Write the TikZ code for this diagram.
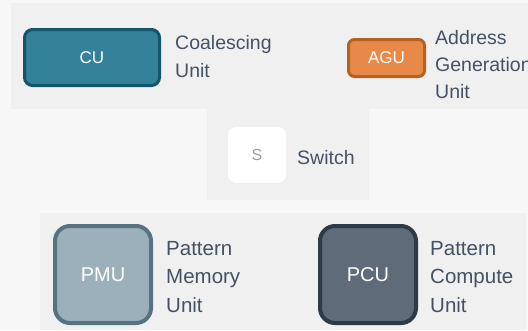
\documentclass[tikz,border=0pt]{standalone}
\usepackage{fontspec}
\setmainfont{Liberation Sans}
\usetikzlibrary{shadows}

\definecolor{pagebg}{HTML}{F7F7F7}
\definecolor{panelbg}{HTML}{F0F0F0}
\definecolor{labeltext}{HTML}{465163}
\definecolor{cufill}{HTML}{34819A}
\definecolor{cuedge}{HTML}{13566B}
\definecolor{agufill}{HTML}{E8894A}
\definecolor{aguedge}{HTML}{B5611F}
\definecolor{pmufill}{HTML}{9BB0BA}
\definecolor{pmuedge}{HTML}{567380}
\definecolor{pcufill}{HTML}{5E6B78}
\definecolor{pcuedge}{HTML}{2E3A46}
\definecolor{swtext}{HTML}{9C9C9C}

\tikzset{
  panel/.style={fill=panelbg, draw=none},
  unitbox/.style={draw, rounded corners=#1, inner sep=0pt, text=white},
  lbl/.style={anchor=base west, inner sep=0pt, text=labeltext,
              font=\fontsize{19.5}{23}\selectfont},
  bigl/.style={lbl, font=\fontsize{20.5}{24}\selectfont},
}

\begin{document}
\begin{tikzpicture}[x=1pt, y=-1pt]
  % page and legend panels
  \fill[pagebg] (0,0) rectangle (528,330);
  \useasboundingbox (0,0) rectangle (528,330);
  \fill[panel] (11,3) rectangle (528,109);
  \fill[panel] (207,109) rectangle (369,200);
  \fill[panel] (40,213) rectangle (526,330);

  % coalescing unit
  \node[unitbox=8pt, fill=cufill, draw=cuedge, line width=3pt,
        minimum width=135pt, minimum height=56pt,
        font=\fontsize{17}{20}\selectfont] (cu) at (92,57.5) {CU};
  \node[lbl] (cu1) at (175,49) {Coalescing};
  \node[lbl] (cu2) at (175,77) {Unit};

  % address generation unit
  \node[unitbox=6pt, fill=agufill, draw=aguedge, line width=3pt,
        minimum width=76pt, minimum height=37pt,
        font=\fontsize{17}{20}\selectfont] (agu) at (386.5,58) {AGU};
  \node[lbl] (agu1) at (435,44) {Address};
  \node[lbl] (agu2) at (435,71.5) {Generation};
  \node[lbl] (agu3) at (435,98.5) {Unit};

  % switch
  \node[rounded corners=8pt, fill=white, inner sep=0pt,
        minimum width=58pt, minimum height=56pt,
        drop shadow={shadow xshift=0pt, shadow yshift=-1pt, opacity=0.06},
        text=swtext, font=\fontsize{16}{19}\selectfont] (sw) at (257,155) {S};
  \node[lbl] (sw1) at (297,164) {Switch};

  % pattern memory unit
  \node[unitbox=15pt, fill=pmufill, draw=pmuedge, line width=4pt,
        minimum width=96pt, minimum height=97pt,
        font=\fontsize{20}{24}\selectfont] (pmu) at (103,274.5) {PMU};
  \node[bigl] (pmu1) at (166,255) {Pattern};
  \node[bigl] (pmu2) at (166,283.5) {Memory};
  \node[bigl] (pmu3) at (166,312.3) {Unit};

  % pattern compute unit
  \node[unitbox=15pt, fill=pcufill, draw=pcuedge, line width=4pt,
        minimum width=96pt, minimum height=97pt,
        font=\fontsize{20}{24}\selectfont] (pcu) at (368,274.5) {PCU};
  \node[bigl] (pcu1) at (430,255) {Pattern};
  \node[bigl] (pcu2) at (430,283.5) {Compute};
  \node[bigl] (pcu3) at (430,312.3) {Unit};
\end{tikzpicture}
\end{document}
